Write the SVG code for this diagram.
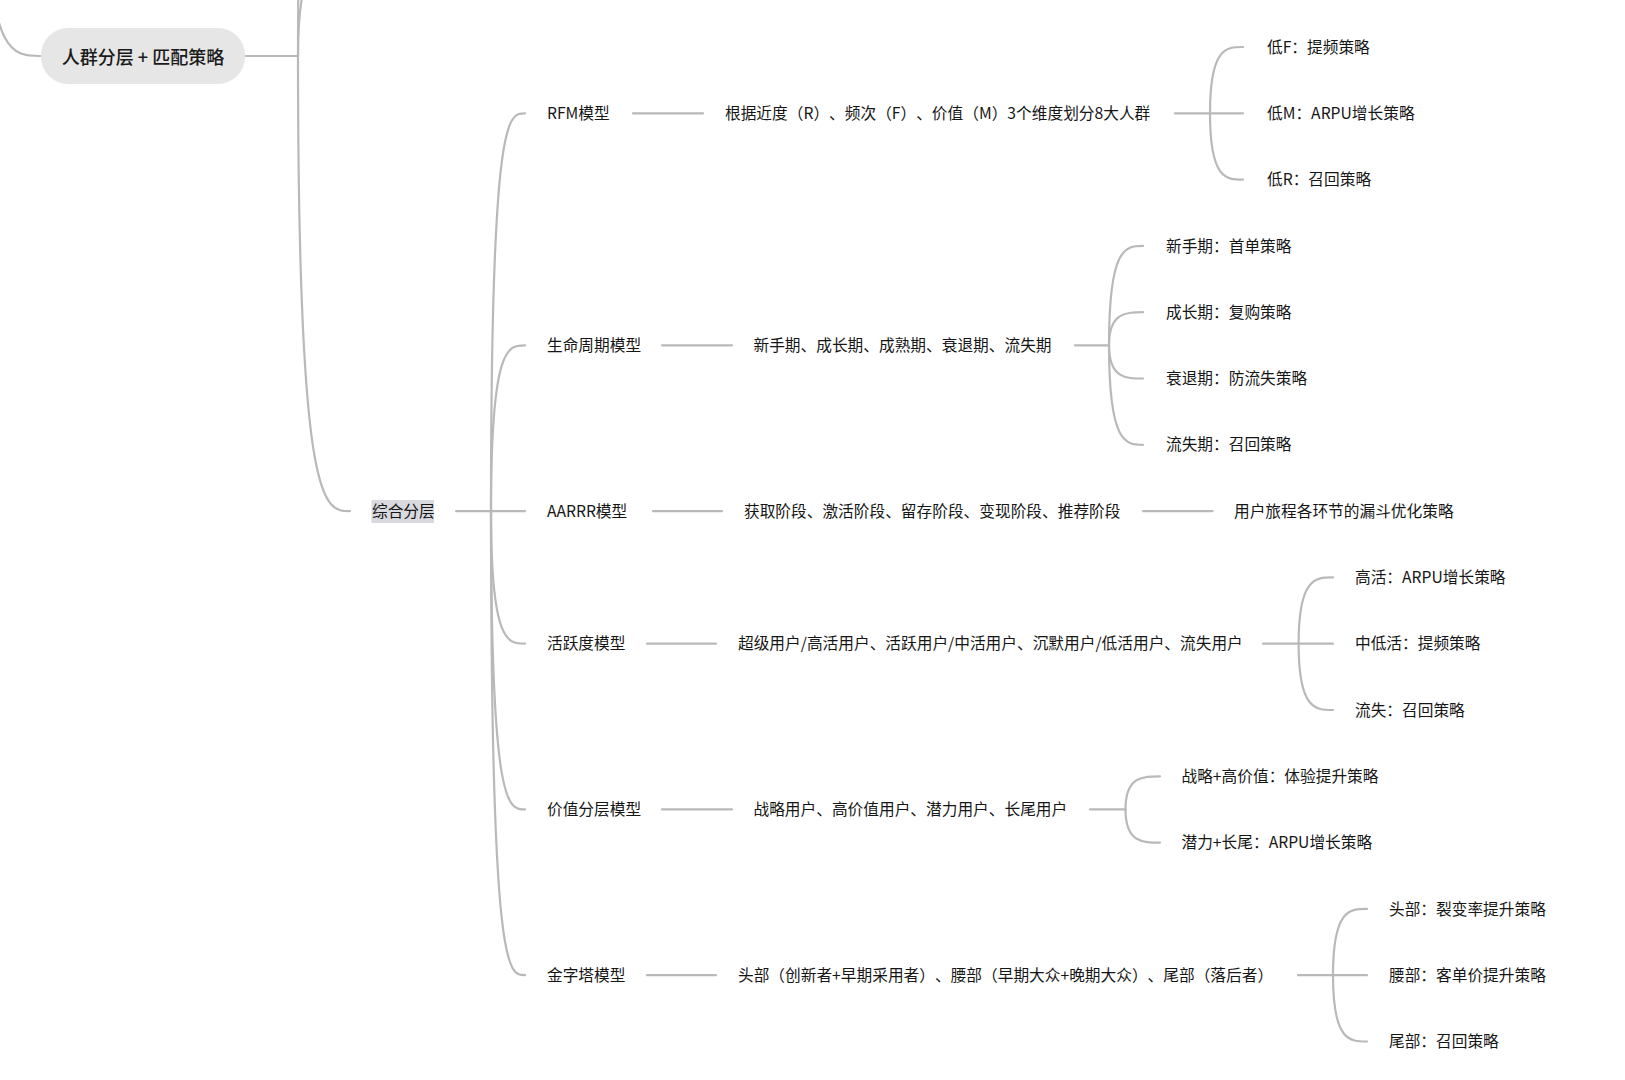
<svg xmlns="http://www.w3.org/2000/svg" width="1625" height="1080" viewBox="0 0 1625 1080">
<style>
  .c { fill: none; stroke: #b9b9b9; stroke-width: 2.2; stroke-linecap: round; }
  .t { font-family: "Noto Sans CJK SC", "Liberation Sans", sans-serif; font-size: 15.7px; font-weight: 400; fill: #161616; dominant-baseline: central; text-spacing-trim: space-all; }
  .root-t { font-family: "Noto Sans CJK SC", "Liberation Sans", sans-serif; font-size: 18px; font-weight: 500; fill: #1a1a1a; dominant-baseline: central; text-anchor: middle; }
</style>
<rect width="1625" height="1080" fill="#ffffff"/>
<g id="connectors">
  <path class="c" d="M -12,-100 C -12,56 14,56 40,56"/>
  <path class="c" d="M 245,56 H 298"/>
  <path class="c" d="M 298,56 C 298,-51 324,-51 350,-51"/>
  <path class="c" d="M 298,56 C 298,-300 324,-300 350,-300"/>
  <path class="c" d="M 298,56 C 298,511.1 324,511.1 350,511.1"/>

  <path class="c" d="M 456,511.1 H 525"/>
  <path class="c" d="M 491,511.1 C 491,113.3 508,113.3 525,113.3"/>
  <path class="c" d="M 491,511.1 C 491,345.35 508,345.35 525,345.35"/>
  <path class="c" d="M 491,511.1 C 491,643.7 508,643.7 525,643.7"/>
  <path class="c" d="M 491,511.1 C 491,809.45 508,809.45 525,809.45"/>
  <path class="c" d="M 491,511.1 C 491,975.2 508,975.2 525,975.2"/>

  <path class="c" d="M 633,113.3 H 703"/>
  <path class="c" d="M 662,345.35 H 732"/>
  <path class="c" d="M 653,511.1 H 722"/>
  <path class="c" d="M 647,643.7 H 716"/>
  <path class="c" d="M 662,809.45 H 732"/>
  <path class="c" d="M 647,975.2 H 716"/>

  <path class="c" d="M 1175,113.3 H 1243"/>
  <path class="c" d="M 1210,113.3 C 1210,47 1226.5,47 1243,47"/>
  <path class="c" d="M 1210,113.3 C 1210,179.6 1226.5,179.6 1243,179.6"/>

  <path class="c" d="M 1075,345.35 H 1109"/>
  <path class="c" d="M 1109,345.35 C 1109,245.9 1126,245.9 1143,245.9"/>
  <path class="c" d="M 1109,345.35 C 1109,312.2 1126,312.2 1143,312.2"/>
  <path class="c" d="M 1109,345.35 C 1109,378.5 1126,378.5 1143,378.5"/>
  <path class="c" d="M 1109,345.35 C 1109,444.8 1126,444.8 1143,444.8"/>

  <path class="c" d="M 1143,511.1 H 1212.6"/>

  <path class="c" d="M 1263,643.7 H 1333"/>
  <path class="c" d="M 1298.6,643.7 C 1298.6,577.4 1315.8,577.4 1333,577.4"/>
  <path class="c" d="M 1298.6,643.7 C 1298.6,710 1315.8,710 1333,710"/>

  <path class="c" d="M 1090,809.45 H 1125.5"/>
  <path class="c" d="M 1125.5,809.45 C 1125.5,776.3 1142.75,776.3 1160,776.3"/>
  <path class="c" d="M 1125.5,809.45 C 1125.5,842.6 1142.75,842.6 1160,842.6"/>

  <path class="c" d="M 1298,975.2 H 1367"/>
  <path class="c" d="M 1333,975.2 C 1333,908.9 1350,908.9 1367,908.9"/>
  <path class="c" d="M 1333,975.2 C 1333,1041.5 1350,1041.5 1367,1041.5"/>
</g>

<g id="root">
  <rect x="41" y="28" width="204" height="56" rx="27" fill="#e6e6e6"/>
  <text class="root-t" x="143" y="55.5">人群分层 + 匹配策略</text>
</g>
<g id="zonghe">
  <rect x="371.5" y="500" width="62.5" height="23" fill="#d9dadf"/>
  <text class="t" x="372" y="510.3">综合分层</text>
</g>

<g id="nodes" transform="translate(0,-0.8)">
<g id="rfm"><text class="t" x="547" y="113.3">RFM模型</text></g>
<g id="lifecycle"><text class="t" x="547" y="345.35">生命周期模型</text></g>
<g id="aarrr"><text class="t" x="547" y="511.1">AARRR模型</text></g>
<g id="activity"><text class="t" x="547" y="643.7">活跃度模型</text></g>
<g id="value"><text class="t" x="547" y="809.45">价值分层模型</text></g>
<g id="pyramid"><text class="t" x="547" y="975.2">金字塔模型</text></g>

<g id="rfm-desc"><text class="t" x="725" y="113.3">根据近度（R）、频次（F）、价值（M）3个维度划分8大人群</text></g>
<g id="lifecycle-desc"><text class="t" x="753.5" y="345.35">新手期、成长期、成熟期、衰退期、流失期</text></g>
<g id="aarrr-desc"><text class="t" x="744" y="511.1">获取阶段、激活阶段、留存阶段、变现阶段、推荐阶段</text></g>
<g id="activity-desc"><text class="t" x="738" y="643.7">超级用户/高活用户、活跃用户/中活用户、沉默用户/低活用户、流失用户</text></g>
<g id="value-desc"><text class="t" x="753.5" y="809.45">战略用户、高价值用户、潜力用户、长尾用户</text></g>
<g id="pyramid-desc"><text class="t" x="738" y="975.2">头部（创新者+早期采用者）、腰部（早期大众+晚期大众）、尾部（落后者）</text></g>

<g id="lowF"><text class="t" x="1267" y="47">低F：提频策略</text></g>
<g id="lowM"><text class="t" x="1267" y="113.3">低M：ARPU增长策略</text></g>
<g id="lowR"><text class="t" x="1267" y="179.6">低R：召回策略</text></g>

<g id="newbie"><text class="t" x="1166" y="245.9">新手期：首单策略</text></g>
<g id="growth"><text class="t" x="1166" y="312.2">成长期：复购策略</text></g>
<g id="decline"><text class="t" x="1166" y="378.5">衰退期：防流失策略</text></g>
<g id="churn"><text class="t" x="1166" y="444.8">流失期：召回策略</text></g>

<g id="funnel"><text class="t" x="1234" y="511.1">用户旅程各环节的漏斗优化策略</text></g>

<g id="high-active"><text class="t" x="1355" y="577.4">高活：ARPU增长策略</text></g>
<g id="mid-low-active"><text class="t" x="1355" y="643.7">中低活：提频策略</text></g>
<g id="lost"><text class="t" x="1355" y="710">流失：召回策略</text></g>

<g id="strategic"><text class="t" x="1181.5" y="776.3">战略+高价值：体验提升策略</text></g>
<g id="potential"><text class="t" x="1181.5" y="842.6">潜力+长尾：ARPU增长策略</text></g>

<g id="head"><text class="t" x="1389" y="908.9">头部：裂变率提升策略</text></g>
<g id="waist"><text class="t" x="1389" y="975.2">腰部：客单价提升策略</text></g>
<g id="tail"><text class="t" x="1389" y="1041.5">尾部：召回策略</text></g>
</g>
</svg>
